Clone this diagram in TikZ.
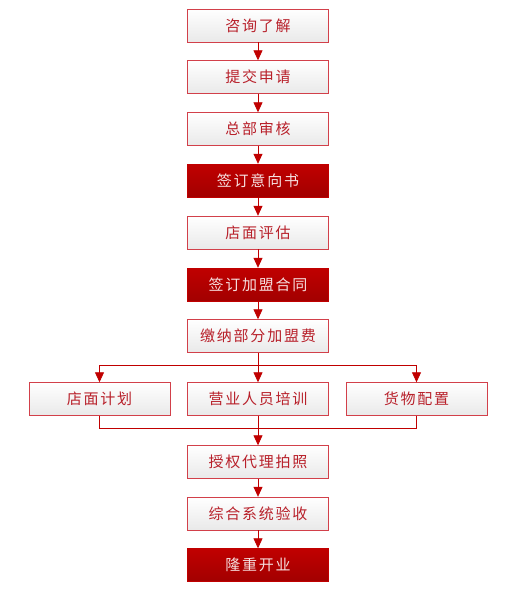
\documentclass[tikz,border=0pt]{standalone}
\usepackage{fontspec}
\newfontfamily\cjk[LetterSpace=12]{Noto Sans CJK SC}
\usetikzlibrary{arrows.meta}
\definecolor{linered}{HTML}{C00000}
\definecolor{edgered}{HTML}{D2404A}
\definecolor{textred}{HTML}{B8202A}
\definecolor{boxgrey}{HTML}{E9E9E9}
\definecolor{darkred}{HTML}{A20000}
\definecolor{textpink}{HTML}{F6E0E0}
\tikzset{
  stepbox/.style={draw=edgered, top color=white, bottom color=boxgrey, minimum width=141pt, minimum height=33pt, inner sep=0pt, text=textred, font=\cjk\fontsize{15pt}{17pt}\selectfont},
  keybox/.style={stepbox, draw=linered, top color=linered, bottom color=darkred, text=textpink},
  link/.style={draw=linered, line width=0.8pt},
  flow/.style={link, -{Triangle[width=9pt,length=10pt]}}
}
\begin{document}
\begin{tikzpicture}[x=1pt,y=-1pt]
  \useasboundingbox (0,0) rectangle (511,600);

  % main column
  \node[stepbox] (zixun) at (258,25.5) {咨询了解};
  \node[stepbox] (tijiao) at (258,77) {提交申请};
  \node[stepbox] (shenhe) at (258,129) {总部审核};
  \node[keybox] (yixiang) at (258,180.5) {签订意向书};
  \node[stepbox] (pinggu) at (258,232.5) {店面评估};
  \node[keybox] (hetong) at (258,284.5) {签订加盟合同};
  \node[stepbox] (jiaona) at (258,336) {缴纳部分加盟费};

  % three branches
  \node[stepbox] (jihua) at (99.5,399) {店面计划};
  \node[stepbox] (peixun) at (258,399) {营业人员培训};
  \node[stepbox] (huowu) at (416.5,399) {货物配置};

  \node[stepbox] (shouquan) at (258,462) {授权代理拍照};
  \node[stepbox] (yanshou) at (258,513.5) {综合系统验收};
  \node[keybox] (kaiye) at (258,565) {隆重开业};

  \foreach \a/\b in {zixun/tijiao, tijiao/shenhe, shenhe/yixiang, yixiang/pinggu, pinggu/hetong, hetong/jiaona, shouquan/yanshou, yanshou/kaiye}
    \draw[flow] (\a) -- (\b);

  \coordinate (fenzhi) at (258,365);
  \coordinate (huizong) at (258,428);
  \draw[link] (jiaona) -- (fenzhi);
  \draw[flow] (fenzhi) -| (jihua);
  \draw[flow] (fenzhi) -- (peixun);
  \draw[flow] (fenzhi) -| (huowu);
  \draw[link] (jihua) |- (huizong);
  \draw[link] (huowu) |- (huizong);
  \draw[flow] (peixun) -- (shouquan);
\end{tikzpicture}
\end{document}
